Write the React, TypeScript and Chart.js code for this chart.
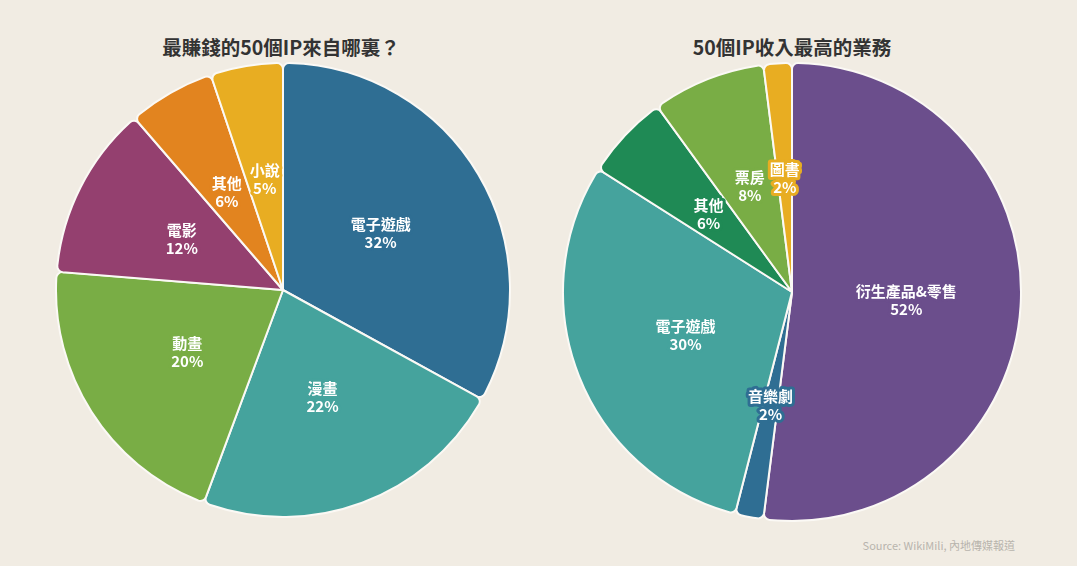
import React, { useEffect, useRef } from "react";
import { Chart, registerables } from "chart.js";

Chart.register(...registerables);

const leftTitle = "最賺錢的50個IP來自哪裏？";
const leftLabels = ["電子遊戲", "漫畫", "動畫", "電影", "其他", "小說"];
const leftValues = [32, 22, 20, 12, 6, 5];
const leftColors = ["#2f6e93", "#45a39d", "#79ad45", "#94406f", "#e2841f", "#e8ad22"];

const rightTitle = "50個IP收入最高的業務";
const rightLabels = ["衍生產品&零售", "音樂劇", "電子遊戲", "其他", "票房", "圖書"];
const rightValues = [52, 2, 30, 6, 8, 2];
const rightColors = ["#6b4e8c", "#2f6e93", "#45a39d", "#1f8a55", "#79ad45", "#e8ad22"];

const sourceText = "Source: WikiMili, 內地傳媒報道";

const FONT = "'Noto Sans CJK TC', 'Noto Sans', sans-serif";

const sliceLabelPlugin = {
  id: "sliceLabels",
  afterDatasetsDraw(chart: any) {
    const ctx = chart.ctx;
    const meta = chart.getDatasetMeta(0);
    const ds = chart.data.datasets[0];
    ctx.save();
    ctx.font = `bold 15px ${FONT}`;
    ctx.textAlign = "center";
    ctx.textBaseline = "middle";
    ctx.lineJoin = "round";
    meta.data.forEach((arc: any, i: number) => {
      const pos = arc.tooltipPosition();
      const lines = [String(chart.data.labels[i]), `${ds.data[i]}%`];
      const lh = 18;
      lines.forEach((t: string, j: number) => {
        const y = pos.y + 1 + (j - 0.5) * lh;
        ctx.strokeStyle = ds.backgroundColor[i];
        ctx.lineWidth = 6;
        ctx.strokeText(t, pos.x, y);
        ctx.fillStyle = "#ffffff";
        ctx.fillText(t, pos.x, y);
      });
    });
    ctx.restore();
  },
};

function PieChart(props: { labels: string[]; values: number[]; colors: string[]; size: number }) {
  const ref = useRef<HTMLCanvasElement | null>(null);
  useEffect(() => {
    if (!ref.current) return;
    const chart = new Chart(ref.current, {
      type: "pie",
      data: {
        labels: props.labels,
        datasets: [
          {
            data: props.values,
            backgroundColor: props.colors,
            borderColor: "#fbf9f5",
            borderWidth: 2,
            borderRadius: 6,
          },
        ],
      },
      options: {
        responsive: false,
        animation: false,
        layout: { padding: 0 },
        plugins: {
          legend: { display: false },
          tooltip: { enabled: false },
          title: { display: false },
        },
      },
      plugins: [sliceLabelPlugin],
    });
    return () => chart.destroy();
  }, []);
  return <canvas ref={ref} width={props.size} height={props.size} />;
}

const titleStyle: React.CSSProperties = {
  position: "absolute",
  width: 400,
  top: 34,
  textAlign: "center",
  fontSize: 19.5,
  fontWeight: "bold",
  color: "#333333",
  lineHeight: "26px",
};

export default function App() {
  return (
    <div
      style={{
        position: "fixed",
        left: 0,
        top: 0,
        width: 1077,
        height: 566,
        background: "#f1ece3",
        fontFamily: FONT,
        overflow: "hidden",
      }}
    >
      <div style={{ ...titleStyle, left: 81 }}>{leftTitle}</div>
      <div style={{ ...titleStyle, left: 592 }}>{rightTitle}</div>
      <div style={{ position: "absolute", left: 55, top: 62 }}>
        <PieChart labels={leftLabels} values={leftValues} colors={leftColors} size={456} />
      </div>
      <div style={{ position: "absolute", left: 562, top: 62 }}>
        <PieChart labels={rightLabels} values={rightValues} colors={rightColors} size={460} />
      </div>
      <div
        style={{
          position: "absolute",
          right: 62,
          top: 537,
          fontSize: 11,
          color: "#b8b4ad",
          lineHeight: "16px",
        }}
      >
        {sourceText}
      </div>
    </div>
  );
}
